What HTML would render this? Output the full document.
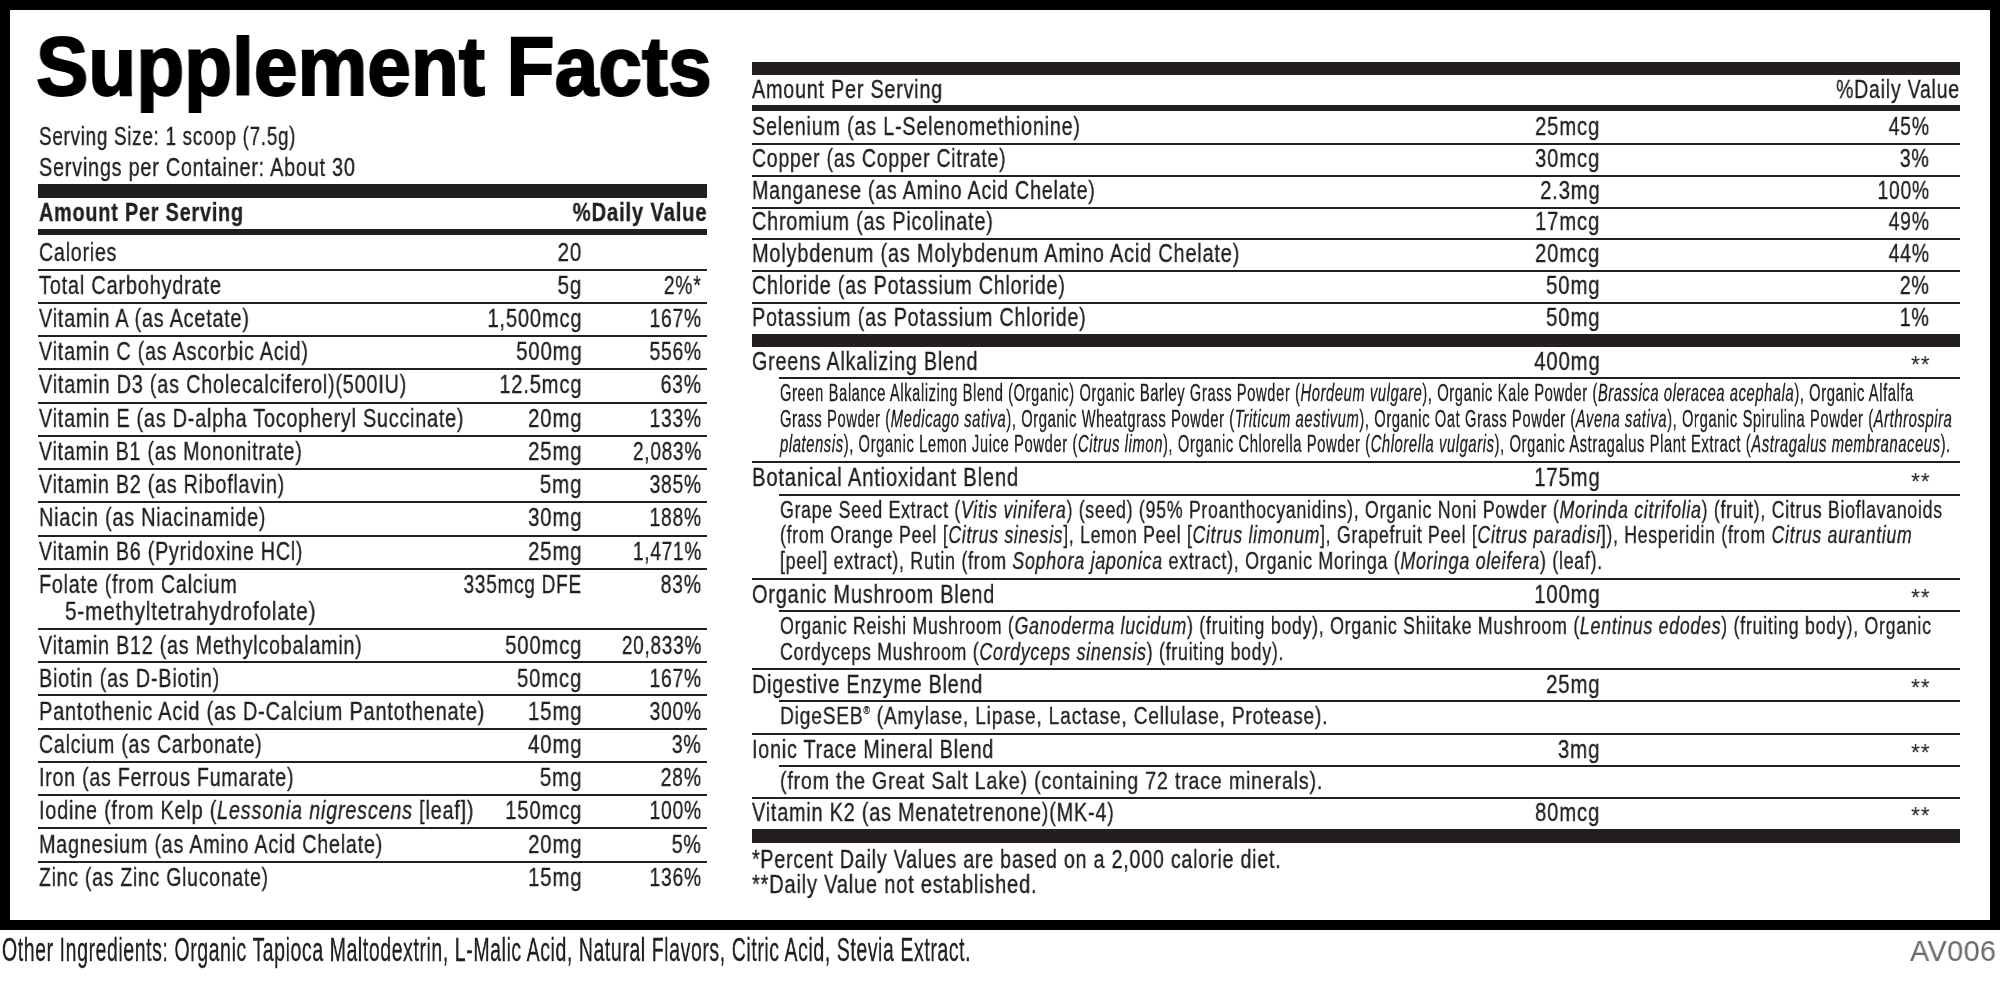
<!DOCTYPE html><html><head><meta charset="utf-8"><style>html,body{margin:0;padding:0;background:#fff;width:2000px;height:982px;overflow:hidden;position:relative}.t{position:absolute;font-family:"Liberation Sans", sans-serif;white-space:pre;will-change:transform;-webkit-text-stroke:0.35px #231f20}.t i{font-style:italic}.t sup{font-size:45%;vertical-align:0;position:relative;top:-0.9em}.r{position:absolute}</style></head><body>
<div class="r" style="left:0px;top:0px;width:2000px;height:10px;background:#000"></div>
<div class="r" style="left:0px;top:920px;width:2000px;height:10px;background:#000"></div>
<div class="r" style="left:0px;top:0px;width:10px;height:930px;background:#000"></div>
<div class="r" style="left:1990px;top:0px;width:10px;height:930px;background:#000"></div>
<div class="r" style="left:38px;top:184px;width:669px;height:14px;background:#231f20"></div>
<div class="r" style="left:38px;top:229px;width:669px;height:6px;background:#231f20"></div>
<div class="r" style="left:38px;top:269px;width:669px;height:2px;background:#231f20"></div>
<div class="r" style="left:38px;top:302px;width:669px;height:2px;background:#231f20"></div>
<div class="r" style="left:38px;top:335px;width:669px;height:2px;background:#231f20"></div>
<div class="r" style="left:38px;top:368px;width:669px;height:2px;background:#231f20"></div>
<div class="r" style="left:38px;top:402px;width:669px;height:2px;background:#231f20"></div>
<div class="r" style="left:38px;top:435px;width:669px;height:2px;background:#231f20"></div>
<div class="r" style="left:38px;top:468px;width:669px;height:2px;background:#231f20"></div>
<div class="r" style="left:38px;top:501px;width:669px;height:2px;background:#231f20"></div>
<div class="r" style="left:38px;top:535px;width:669px;height:2px;background:#231f20"></div>
<div class="r" style="left:38px;top:568px;width:669px;height:2px;background:#231f20"></div>
<div class="r" style="left:38px;top:628px;width:669px;height:2px;background:#231f20"></div>
<div class="r" style="left:38px;top:661px;width:669px;height:2px;background:#231f20"></div>
<div class="r" style="left:38px;top:694px;width:669px;height:2px;background:#231f20"></div>
<div class="r" style="left:38px;top:728px;width:669px;height:2px;background:#231f20"></div>
<div class="r" style="left:38px;top:761px;width:669px;height:2px;background:#231f20"></div>
<div class="r" style="left:38px;top:794px;width:669px;height:2px;background:#231f20"></div>
<div class="r" style="left:38px;top:827px;width:669px;height:2px;background:#231f20"></div>
<div class="r" style="left:38px;top:861px;width:669px;height:2px;background:#231f20"></div>
<div class="r" style="left:752px;top:62px;width:1208px;height:13px;background:#231f20"></div>
<div class="r" style="left:752px;top:105px;width:1208px;height:6px;background:#231f20"></div>
<div class="r" style="left:752px;top:143px;width:1208px;height:2px;background:#231f20"></div>
<div class="r" style="left:752px;top:175px;width:1208px;height:2px;background:#231f20"></div>
<div class="r" style="left:752px;top:207px;width:1208px;height:2px;background:#231f20"></div>
<div class="r" style="left:752px;top:238px;width:1208px;height:2px;background:#231f20"></div>
<div class="r" style="left:752px;top:270px;width:1208px;height:2px;background:#231f20"></div>
<div class="r" style="left:752px;top:302px;width:1208px;height:2px;background:#231f20"></div>
<div class="r" style="left:752px;top:334px;width:1208px;height:13px;background:#231f20"></div>
<div class="r" style="left:779px;top:377px;width:1181px;height:2px;background:#231f20"></div>
<div class="r" style="left:779px;top:494px;width:1181px;height:2px;background:#231f20"></div>
<div class="r" style="left:779px;top:610px;width:1181px;height:2px;background:#231f20"></div>
<div class="r" style="left:779px;top:700px;width:1181px;height:2px;background:#231f20"></div>
<div class="r" style="left:779px;top:765px;width:1181px;height:2px;background:#231f20"></div>
<div class="r" style="left:752px;top:461px;width:1208px;height:2px;background:#231f20"></div>
<div class="r" style="left:752px;top:578px;width:1208px;height:2px;background:#231f20"></div>
<div class="r" style="left:752px;top:668px;width:1208px;height:2px;background:#231f20"></div>
<div class="r" style="left:752px;top:733px;width:1208px;height:2px;background:#231f20"></div>
<div class="r" style="left:752px;top:797px;width:1208px;height:2px;background:#231f20"></div>
<div class="r" style="left:752px;top:829px;width:1208px;height:14px;background:#231f20"></div>
<div class="t" id="t0" style="top:24.05px;font-size:84.06px;line-height:84.06px;font-weight:700;color:#000;letter-spacing:0px;-webkit-text-stroke:2.0px #000;left:36px;transform-origin:0 0;transform:scaleX(0.9332);">Supplement Facts</div>
<div class="t" id="t1" style="top:124.14px;font-size:25.36px;line-height:25.36px;font-weight:400;color:#231f20;letter-spacing:1.0px;left:38.9px;transform-origin:0 0;transform:scaleX(0.7422);">Serving Size: 1 scoop (7.5g)</div>
<div class="t" id="t2" style="top:155.34px;font-size:25.36px;line-height:25.36px;font-weight:400;color:#231f20;letter-spacing:1.0px;left:38.9px;transform-origin:0 0;transform:scaleX(0.7808);">Servings per Container: About 30</div>
<div class="t" id="t3" style="top:199.54px;font-size:25.36px;line-height:25.36px;font-weight:700;color:#231f20;letter-spacing:1.0px;left:38.5px;transform-origin:0 0;transform:scaleX(0.7826);">Amount Per Serving</div>
<div class="t" id="t4" style="top:199.54px;font-size:25.36px;line-height:25.36px;font-weight:700;color:#231f20;letter-spacing:1.0px;right:1292.20px;transform-origin:100% 0;transform:scaleX(0.8001);">%Daily Value</div>
<div class="t" id="t5" style="top:239.74px;font-size:25.36px;line-height:25.36px;font-weight:400;color:#231f20;letter-spacing:1.0px;left:38.5px;transform-origin:0 0;transform:scaleX(0.7738);">Calories</div>
<div class="t" id="t6" style="top:239.74px;font-size:25.36px;line-height:25.36px;font-weight:400;color:#231f20;letter-spacing:1.0px;right:1417.68px;transform-origin:100% 0;transform:scaleX(0.8161);">20</div>
<div class="t" id="t7" style="top:273.04px;font-size:25.36px;line-height:25.36px;font-weight:400;color:#231f20;letter-spacing:1.0px;left:38.5px;transform-origin:0 0;transform:scaleX(0.7865);">Total Carbohydrate</div>
<div class="t" id="t8" style="top:273.04px;font-size:25.36px;line-height:25.36px;font-weight:400;color:#231f20;letter-spacing:1.0px;right:1417.68px;transform-origin:100% 0;transform:scaleX(0.8161);">5g</div>
<div class="t" id="t9" style="top:273.04px;font-size:25.36px;line-height:25.36px;font-weight:400;color:#231f20;letter-spacing:1.0px;right:1298.04px;transform-origin:100% 0;transform:scaleX(0.7616);">2%*</div>
<div class="t" id="t10" style="top:306.24px;font-size:25.36px;line-height:25.36px;font-weight:400;color:#231f20;letter-spacing:1.0px;left:38.5px;transform-origin:0 0;transform:scaleX(0.7813);">Vitamin A (as Acetate)</div>
<div class="t" id="t11" style="top:306.24px;font-size:25.36px;line-height:25.36px;font-weight:400;color:#231f20;letter-spacing:1.0px;right:1417.70px;transform-origin:100% 0;transform:scaleX(0.7950);">1,500mcg</div>
<div class="t" id="t12" style="top:306.24px;font-size:25.36px;line-height:25.36px;font-weight:400;color:#231f20;letter-spacing:1.0px;right:1298.04px;transform-origin:100% 0;transform:scaleX(0.7592);">167%</div>
<div class="t" id="t13" style="top:339.14px;font-size:25.36px;line-height:25.36px;font-weight:400;color:#231f20;letter-spacing:1.0px;left:38.5px;transform-origin:0 0;transform:scaleX(0.7796);">Vitamin C (as Ascorbic Acid)</div>
<div class="t" id="t14" style="top:339.14px;font-size:25.36px;line-height:25.36px;font-weight:400;color:#231f20;letter-spacing:1.0px;right:1417.70px;transform-origin:100% 0;transform:scaleX(0.8036);">500mg</div>
<div class="t" id="t15" style="top:339.14px;font-size:25.36px;line-height:25.36px;font-weight:400;color:#231f20;letter-spacing:1.0px;right:1298.04px;transform-origin:100% 0;transform:scaleX(0.7592);">556%</div>
<div class="t" id="t16" style="top:372.39px;font-size:25.36px;line-height:25.36px;font-weight:400;color:#231f20;letter-spacing:1.0px;left:38.5px;transform-origin:0 0;transform:scaleX(0.7827);">Vitamin D3 (as Cholecalciferol)(500IU)</div>
<div class="t" id="t17" style="top:372.39px;font-size:25.36px;line-height:25.36px;font-weight:400;color:#231f20;letter-spacing:1.0px;right:1417.70px;transform-origin:100% 0;transform:scaleX(0.7959);">12.5mcg</div>
<div class="t" id="t18" style="top:372.39px;font-size:25.36px;line-height:25.36px;font-weight:400;color:#231f20;letter-spacing:1.0px;right:1298.04px;transform-origin:100% 0;transform:scaleX(0.7642);">63%</div>
<div class="t" id="t19" style="top:405.64px;font-size:25.36px;line-height:25.36px;font-weight:400;color:#231f20;letter-spacing:1.0px;left:38.5px;transform-origin:0 0;transform:scaleX(0.7799);">Vitamin E (as D-alpha Tocopheryl Succinate)</div>
<div class="t" id="t20" style="top:405.64px;font-size:25.36px;line-height:25.36px;font-weight:400;color:#231f20;letter-spacing:1.0px;right:1417.69px;transform-origin:100% 0;transform:scaleX(0.8068);">20mg</div>
<div class="t" id="t21" style="top:405.64px;font-size:25.36px;line-height:25.36px;font-weight:400;color:#231f20;letter-spacing:1.0px;right:1298.04px;transform-origin:100% 0;transform:scaleX(0.7592);">133%</div>
<div class="t" id="t22" style="top:438.89px;font-size:25.36px;line-height:25.36px;font-weight:400;color:#231f20;letter-spacing:1.0px;left:38.5px;transform-origin:0 0;transform:scaleX(0.7731);">Vitamin B1 (as Mononitrate)</div>
<div class="t" id="t23" style="top:438.89px;font-size:25.36px;line-height:25.36px;font-weight:400;color:#231f20;letter-spacing:1.0px;right:1417.69px;transform-origin:100% 0;transform:scaleX(0.8068);">25mg</div>
<div class="t" id="t24" style="top:438.89px;font-size:25.36px;line-height:25.36px;font-weight:400;color:#231f20;letter-spacing:1.0px;right:1298.05px;transform-origin:100% 0;transform:scaleX(0.7507);">2,083%</div>
<div class="t" id="t25" style="top:472.14px;font-size:25.36px;line-height:25.36px;font-weight:400;color:#231f20;letter-spacing:1.0px;left:38.5px;transform-origin:0 0;transform:scaleX(0.7754);">Vitamin B2 (as Riboflavin)</div>
<div class="t" id="t26" style="top:472.14px;font-size:25.36px;line-height:25.36px;font-weight:400;color:#231f20;letter-spacing:1.0px;right:1417.69px;transform-origin:100% 0;transform:scaleX(0.8121);">5mg</div>
<div class="t" id="t27" style="top:472.14px;font-size:25.36px;line-height:25.36px;font-weight:400;color:#231f20;letter-spacing:1.0px;right:1298.04px;transform-origin:100% 0;transform:scaleX(0.7592);">385%</div>
<div class="t" id="t28" style="top:505.39px;font-size:25.36px;line-height:25.36px;font-weight:400;color:#231f20;letter-spacing:1.0px;left:38.5px;transform-origin:0 0;transform:scaleX(0.7816);">Niacin (as Niacinamide)</div>
<div class="t" id="t29" style="top:505.39px;font-size:25.36px;line-height:25.36px;font-weight:400;color:#231f20;letter-spacing:1.0px;right:1417.69px;transform-origin:100% 0;transform:scaleX(0.8068);">30mg</div>
<div class="t" id="t30" style="top:505.39px;font-size:25.36px;line-height:25.36px;font-weight:400;color:#231f20;letter-spacing:1.0px;right:1298.04px;transform-origin:100% 0;transform:scaleX(0.7592);">188%</div>
<div class="t" id="t31" style="top:538.64px;font-size:25.36px;line-height:25.36px;font-weight:400;color:#231f20;letter-spacing:1.0px;left:38.5px;transform-origin:0 0;transform:scaleX(0.7754);">Vitamin B6 (Pyridoxine HCl)</div>
<div class="t" id="t32" style="top:538.64px;font-size:25.36px;line-height:25.36px;font-weight:400;color:#231f20;letter-spacing:1.0px;right:1417.69px;transform-origin:100% 0;transform:scaleX(0.8068);">25mg</div>
<div class="t" id="t33" style="top:538.64px;font-size:25.36px;line-height:25.36px;font-weight:400;color:#231f20;letter-spacing:1.0px;right:1298.05px;transform-origin:100% 0;transform:scaleX(0.7507);">1,471%</div>
<div class="t" id="t34" style="top:572.14px;font-size:25.36px;line-height:25.36px;font-weight:400;color:#231f20;letter-spacing:1.0px;left:38.5px;transform-origin:0 0;transform:scaleX(0.7775);">Folate (from Calcium</div>
<div class="t" id="t35" style="top:572.14px;font-size:25.36px;line-height:25.36px;font-weight:400;color:#231f20;letter-spacing:1.0px;right:1417.75px;transform-origin:100% 0;transform:scaleX(0.7498);">335mcg DFE</div>
<div class="t" id="t36" style="top:572.14px;font-size:25.36px;line-height:25.36px;font-weight:400;color:#231f20;letter-spacing:1.0px;right:1298.04px;transform-origin:100% 0;transform:scaleX(0.7642);">83%</div>
<div class="t" id="t37" style="top:632.64px;font-size:25.36px;line-height:25.36px;font-weight:400;color:#231f20;letter-spacing:1.0px;left:38.5px;transform-origin:0 0;transform:scaleX(0.7771);">Vitamin B12 (as Methylcobalamin)</div>
<div class="t" id="t38" style="top:632.64px;font-size:25.36px;line-height:25.36px;font-weight:400;color:#231f20;letter-spacing:1.0px;right:1417.70px;transform-origin:100% 0;transform:scaleX(0.8006);">500mcg</div>
<div class="t" id="t39" style="top:632.64px;font-size:25.36px;line-height:25.36px;font-weight:400;color:#231f20;letter-spacing:1.0px;right:1298.05px;transform-origin:100% 0;transform:scaleX(0.7494);">20,833%</div>
<div class="t" id="t40" style="top:665.89px;font-size:25.36px;line-height:25.36px;font-weight:400;color:#231f20;letter-spacing:1.0px;left:38.5px;transform-origin:0 0;transform:scaleX(0.7823);">Biotin (as D-Biotin)</div>
<div class="t" id="t41" style="top:665.89px;font-size:25.36px;line-height:25.36px;font-weight:400;color:#231f20;letter-spacing:1.0px;right:1417.70px;transform-origin:100% 0;transform:scaleX(0.8028);">50mcg</div>
<div class="t" id="t42" style="top:665.89px;font-size:25.36px;line-height:25.36px;font-weight:400;color:#231f20;letter-spacing:1.0px;right:1298.04px;transform-origin:100% 0;transform:scaleX(0.7592);">167%</div>
<div class="t" id="t43" style="top:699.14px;font-size:25.36px;line-height:25.36px;font-weight:400;color:#231f20;letter-spacing:1.0px;left:38.5px;transform-origin:0 0;transform:scaleX(0.7867);">Pantothenic Acid (as D-Calcium Pantothenate)</div>
<div class="t" id="t44" style="top:699.14px;font-size:25.36px;line-height:25.36px;font-weight:400;color:#231f20;letter-spacing:1.0px;right:1417.69px;transform-origin:100% 0;transform:scaleX(0.8068);">15mg</div>
<div class="t" id="t45" style="top:699.14px;font-size:25.36px;line-height:25.36px;font-weight:400;color:#231f20;letter-spacing:1.0px;right:1298.04px;transform-origin:100% 0;transform:scaleX(0.7592);">300%</div>
<div class="t" id="t46" style="top:732.14px;font-size:25.36px;line-height:25.36px;font-weight:400;color:#231f20;letter-spacing:1.0px;left:38.5px;transform-origin:0 0;transform:scaleX(0.7713);">Calcium (as Carbonate)</div>
<div class="t" id="t47" style="top:732.14px;font-size:25.36px;line-height:25.36px;font-weight:400;color:#231f20;letter-spacing:1.0px;right:1417.69px;transform-origin:100% 0;transform:scaleX(0.8068);">40mg</div>
<div class="t" id="t48" style="top:732.14px;font-size:25.36px;line-height:25.36px;font-weight:400;color:#231f20;letter-spacing:1.0px;right:1298.03px;transform-origin:100% 0;transform:scaleX(0.7732);">3%</div>
<div class="t" id="t49" style="top:765.39px;font-size:25.36px;line-height:25.36px;font-weight:400;color:#231f20;letter-spacing:1.0px;left:38.5px;transform-origin:0 0;transform:scaleX(0.7726);">Iron (as Ferrous Fumarate)</div>
<div class="t" id="t50" style="top:765.39px;font-size:25.36px;line-height:25.36px;font-weight:400;color:#231f20;letter-spacing:1.0px;right:1417.69px;transform-origin:100% 0;transform:scaleX(0.8121);">5mg</div>
<div class="t" id="t51" style="top:765.39px;font-size:25.36px;line-height:25.36px;font-weight:400;color:#231f20;letter-spacing:1.0px;right:1298.04px;transform-origin:100% 0;transform:scaleX(0.7642);">28%</div>
<div class="t" id="t52" style="top:798.39px;font-size:25.36px;line-height:25.36px;font-weight:400;color:#231f20;letter-spacing:1.0px;left:38.5px;transform-origin:0 0;transform:scaleX(0.7825);">Iodine (from Kelp (<i>Lessonia nigrescens</i> [leaf])</div>
<div class="t" id="t53" style="top:798.39px;font-size:25.36px;line-height:25.36px;font-weight:400;color:#231f20;letter-spacing:1.0px;right:1417.70px;transform-origin:100% 0;transform:scaleX(0.8006);">150mcg</div>
<div class="t" id="t54" style="top:798.39px;font-size:25.36px;line-height:25.36px;font-weight:400;color:#231f20;letter-spacing:1.0px;right:1298.04px;transform-origin:100% 0;transform:scaleX(0.7592);">100%</div>
<div class="t" id="t55" style="top:831.64px;font-size:25.36px;line-height:25.36px;font-weight:400;color:#231f20;letter-spacing:1.0px;left:38.5px;transform-origin:0 0;transform:scaleX(0.7788);">Magnesium (as Amino Acid Chelate)</div>
<div class="t" id="t56" style="top:831.64px;font-size:25.36px;line-height:25.36px;font-weight:400;color:#231f20;letter-spacing:1.0px;right:1417.69px;transform-origin:100% 0;transform:scaleX(0.8068);">20mg</div>
<div class="t" id="t57" style="top:831.64px;font-size:25.36px;line-height:25.36px;font-weight:400;color:#231f20;letter-spacing:1.0px;right:1298.03px;transform-origin:100% 0;transform:scaleX(0.7732);">5%</div>
<div class="t" id="t58" style="top:864.64px;font-size:25.36px;line-height:25.36px;font-weight:400;color:#231f20;letter-spacing:1.0px;left:38.5px;transform-origin:0 0;transform:scaleX(0.7653);">Zinc (as Zinc Gluconate)</div>
<div class="t" id="t59" style="top:864.64px;font-size:25.36px;line-height:25.36px;font-weight:400;color:#231f20;letter-spacing:1.0px;right:1417.69px;transform-origin:100% 0;transform:scaleX(0.8068);">15mg</div>
<div class="t" id="t60" style="top:864.64px;font-size:25.36px;line-height:25.36px;font-weight:400;color:#231f20;letter-spacing:1.0px;right:1298.04px;transform-origin:100% 0;transform:scaleX(0.7592);">136%</div>
<div class="t" id="t61" style="top:599.14px;font-size:25.36px;line-height:25.36px;font-weight:400;color:#231f20;letter-spacing:1.0px;left:64.5px;transform-origin:0 0;transform:scaleX(0.8189);">5-methyltetrahydrofolate)</div>
<div class="t" id="t62" style="top:76.84px;font-size:25.36px;line-height:25.36px;font-weight:400;color:#231f20;letter-spacing:1.0px;left:752.2px;transform-origin:0 0;transform:scaleX(0.7797);">Amount Per Serving</div>
<div class="t" id="t63" style="top:76.94px;font-size:25.36px;line-height:25.36px;font-weight:400;color:#231f20;letter-spacing:1.0px;right:39.73px;transform-origin:100% 0;transform:scaleX(0.7697);">%Daily Value</div>
<div class="t" id="t64" style="top:114.14px;font-size:25.36px;line-height:25.36px;font-weight:400;color:#231f20;letter-spacing:1.0px;left:752.2px;transform-origin:0 0;transform:scaleX(0.7808);">Selenium (as L-Selenomethionine)</div>
<div class="t" id="t65" style="top:114.14px;font-size:25.36px;line-height:25.36px;font-weight:400;color:#231f20;letter-spacing:1.0px;right:399.40px;transform-origin:100% 0;transform:scaleX(0.8028);">25mcg</div>
<div class="t" id="t66" style="top:114.14px;font-size:25.36px;line-height:25.36px;font-weight:400;color:#231f20;letter-spacing:1.0px;right:70.44px;transform-origin:100% 0;transform:scaleX(0.7642);">45%</div>
<div class="t" id="t67" style="top:145.89px;font-size:25.36px;line-height:25.36px;font-weight:400;color:#231f20;letter-spacing:1.0px;left:752.2px;transform-origin:0 0;transform:scaleX(0.7662);">Copper (as Copper Citrate)</div>
<div class="t" id="t68" style="top:145.89px;font-size:25.36px;line-height:25.36px;font-weight:400;color:#231f20;letter-spacing:1.0px;right:399.40px;transform-origin:100% 0;transform:scaleX(0.8028);">30mcg</div>
<div class="t" id="t69" style="top:145.89px;font-size:25.36px;line-height:25.36px;font-weight:400;color:#231f20;letter-spacing:1.0px;right:70.43px;transform-origin:100% 0;transform:scaleX(0.7732);">3%</div>
<div class="t" id="t70" style="top:177.64px;font-size:25.36px;line-height:25.36px;font-weight:400;color:#231f20;letter-spacing:1.0px;left:752.2px;transform-origin:0 0;transform:scaleX(0.7752);">Manganese (as Amino Acid Chelate)</div>
<div class="t" id="t71" style="top:177.64px;font-size:25.36px;line-height:25.36px;font-weight:400;color:#231f20;letter-spacing:1.0px;right:399.40px;transform-origin:100% 0;transform:scaleX(0.7996);">2.3mg</div>
<div class="t" id="t72" style="top:177.64px;font-size:25.36px;line-height:25.36px;font-weight:400;color:#231f20;letter-spacing:1.0px;right:70.44px;transform-origin:100% 0;transform:scaleX(0.7592);">100%</div>
<div class="t" id="t73" style="top:209.39px;font-size:25.36px;line-height:25.36px;font-weight:400;color:#231f20;letter-spacing:1.0px;left:752.2px;transform-origin:0 0;transform:scaleX(0.7826);">Chromium (as Picolinate)</div>
<div class="t" id="t74" style="top:209.39px;font-size:25.36px;line-height:25.36px;font-weight:400;color:#231f20;letter-spacing:1.0px;right:399.40px;transform-origin:100% 0;transform:scaleX(0.8028);">17mcg</div>
<div class="t" id="t75" style="top:209.39px;font-size:25.36px;line-height:25.36px;font-weight:400;color:#231f20;letter-spacing:1.0px;right:70.44px;transform-origin:100% 0;transform:scaleX(0.7642);">49%</div>
<div class="t" id="t76" style="top:241.14px;font-size:25.36px;line-height:25.36px;font-weight:400;color:#231f20;letter-spacing:1.0px;left:752.2px;transform-origin:0 0;transform:scaleX(0.7870);">Molybdenum (as Molybdenum Amino Acid Chelate)</div>
<div class="t" id="t77" style="top:241.14px;font-size:25.36px;line-height:25.36px;font-weight:400;color:#231f20;letter-spacing:1.0px;right:399.40px;transform-origin:100% 0;transform:scaleX(0.8028);">20mcg</div>
<div class="t" id="t78" style="top:241.14px;font-size:25.36px;line-height:25.36px;font-weight:400;color:#231f20;letter-spacing:1.0px;right:70.44px;transform-origin:100% 0;transform:scaleX(0.7642);">44%</div>
<div class="t" id="t79" style="top:272.89px;font-size:25.36px;line-height:25.36px;font-weight:400;color:#231f20;letter-spacing:1.0px;left:752.2px;transform-origin:0 0;transform:scaleX(0.7760);">Chloride (as Potassium Chloride)</div>
<div class="t" id="t80" style="top:272.89px;font-size:25.36px;line-height:25.36px;font-weight:400;color:#231f20;letter-spacing:1.0px;right:399.39px;transform-origin:100% 0;transform:scaleX(0.8068);">50mg</div>
<div class="t" id="t81" style="top:272.89px;font-size:25.36px;line-height:25.36px;font-weight:400;color:#231f20;letter-spacing:1.0px;right:70.43px;transform-origin:100% 0;transform:scaleX(0.7732);">2%</div>
<div class="t" id="t82" style="top:304.64px;font-size:25.36px;line-height:25.36px;font-weight:400;color:#231f20;letter-spacing:1.0px;left:752.2px;transform-origin:0 0;transform:scaleX(0.7798);">Potassium (as Potassium Chloride)</div>
<div class="t" id="t83" style="top:304.64px;font-size:25.36px;line-height:25.36px;font-weight:400;color:#231f20;letter-spacing:1.0px;right:399.39px;transform-origin:100% 0;transform:scaleX(0.8068);">50mg</div>
<div class="t" id="t84" style="top:304.64px;font-size:25.36px;line-height:25.36px;font-weight:400;color:#231f20;letter-spacing:1.0px;right:70.43px;transform-origin:100% 0;transform:scaleX(0.7732);">1%</div>
<div class="t" id="t85" style="top:348.64px;font-size:25.36px;line-height:25.36px;font-weight:400;color:#231f20;letter-spacing:1.0px;left:752.2px;transform-origin:0 0;transform:scaleX(0.7777);">Greens Alkalizing Blend</div>
<div class="t" id="t86" style="top:348.64px;font-size:25.36px;line-height:25.36px;font-weight:400;color:#231f20;letter-spacing:1.0px;right:399.40px;transform-origin:100% 0;transform:scaleX(0.8036);">400mg</div>
<div class="t" id="t87" style="top:353.17px;font-size:23.91px;line-height:23.91px;font-weight:400;color:#231f21;letter-spacing:1.0px;-webkit-text-stroke:0;right:69.75px;transform-origin:100% 0;transform:scaleX(0.9500);">**</div>
<div class="t" id="t88" style="top:465.14px;font-size:25.36px;line-height:25.36px;font-weight:400;color:#231f20;letter-spacing:1.0px;left:752.2px;transform-origin:0 0;transform:scaleX(0.7985);">Botanical Antioxidant Blend</div>
<div class="t" id="t89" style="top:465.14px;font-size:25.36px;line-height:25.36px;font-weight:400;color:#231f20;letter-spacing:1.0px;right:399.40px;transform-origin:100% 0;transform:scaleX(0.8036);">175mg</div>
<div class="t" id="t90" style="top:469.67px;font-size:23.91px;line-height:23.91px;font-weight:400;color:#231f21;letter-spacing:1.0px;-webkit-text-stroke:0;right:69.75px;transform-origin:100% 0;transform:scaleX(0.9500);">**</div>
<div class="t" id="t91" style="top:581.54px;font-size:25.36px;line-height:25.36px;font-weight:400;color:#231f20;letter-spacing:1.0px;left:752.2px;transform-origin:0 0;transform:scaleX(0.7853);">Organic Mushroom Blend</div>
<div class="t" id="t92" style="top:581.54px;font-size:25.36px;line-height:25.36px;font-weight:400;color:#231f20;letter-spacing:1.0px;right:399.40px;transform-origin:100% 0;transform:scaleX(0.8036);">100mg</div>
<div class="t" id="t93" style="top:586.07px;font-size:23.91px;line-height:23.91px;font-weight:400;color:#231f21;letter-spacing:1.0px;-webkit-text-stroke:0;right:69.75px;transform-origin:100% 0;transform:scaleX(0.9500);">**</div>
<div class="t" id="t94" style="top:671.54px;font-size:25.36px;line-height:25.36px;font-weight:400;color:#231f20;letter-spacing:1.0px;left:752.2px;transform-origin:0 0;transform:scaleX(0.7781);">Digestive Enzyme Blend</div>
<div class="t" id="t95" style="top:671.54px;font-size:25.36px;line-height:25.36px;font-weight:400;color:#231f20;letter-spacing:1.0px;right:399.39px;transform-origin:100% 0;transform:scaleX(0.8068);">25mg</div>
<div class="t" id="t96" style="top:676.07px;font-size:23.91px;line-height:23.91px;font-weight:400;color:#231f21;letter-spacing:1.0px;-webkit-text-stroke:0;right:69.75px;transform-origin:100% 0;transform:scaleX(0.9500);">**</div>
<div class="t" id="t97" style="top:736.64px;font-size:25.36px;line-height:25.36px;font-weight:400;color:#231f20;letter-spacing:1.0px;left:752.2px;transform-origin:0 0;transform:scaleX(0.7780);">Ionic Trace Mineral Blend</div>
<div class="t" id="t98" style="top:736.64px;font-size:25.36px;line-height:25.36px;font-weight:400;color:#231f20;letter-spacing:1.0px;right:399.39px;transform-origin:100% 0;transform:scaleX(0.8121);">3mg</div>
<div class="t" id="t99" style="top:741.17px;font-size:23.91px;line-height:23.91px;font-weight:400;color:#231f21;letter-spacing:1.0px;-webkit-text-stroke:0;right:69.75px;transform-origin:100% 0;transform:scaleX(0.9500);">**</div>
<div class="t" id="t100" style="top:799.64px;font-size:25.36px;line-height:25.36px;font-weight:400;color:#231f20;letter-spacing:1.0px;left:752.2px;transform-origin:0 0;transform:scaleX(0.7831);">Vitamin K2 (as Menatetrenone)(MK-4)</div>
<div class="t" id="t101" style="top:799.64px;font-size:25.36px;line-height:25.36px;font-weight:400;color:#231f20;letter-spacing:1.0px;right:399.40px;transform-origin:100% 0;transform:scaleX(0.8028);">80mcg</div>
<div class="t" id="t102" style="top:804.17px;font-size:23.91px;line-height:23.91px;font-weight:400;color:#231f21;letter-spacing:1.0px;-webkit-text-stroke:0;right:69.75px;transform-origin:100% 0;transform:scaleX(0.9500);">**</div>
<div class="t" id="t103" style="top:381.01px;font-size:24.64px;line-height:24.64px;font-weight:400;color:#231f20;letter-spacing:1.0px;left:779.5px;transform-origin:0 0;transform:scaleX(0.5978);">Green Balance Alkalizing Blend (Organic) Organic Barley Grass Powder (<i>Hordeum vulgare</i>), Organic Kale Powder (<i>Brassica oleracea acephala</i>), Organic Alfalfa</div>
<div class="t" id="t104" style="top:406.96px;font-size:24.64px;line-height:24.64px;font-weight:400;color:#231f20;letter-spacing:1.0px;left:779.5px;transform-origin:0 0;transform:scaleX(0.5986);">Grass Powder (<i>Medicago sativa</i>), Organic Wheatgrass Powder (<i>Triticum aestivum</i>), Organic Oat Grass Powder (<i>Avena sativa</i>), Organic Spirulina Powder (<i>Arthrospira</i></div>
<div class="t" id="t105" style="top:432.46px;font-size:24.64px;line-height:24.64px;font-weight:400;color:#231f20;letter-spacing:1.0px;left:779.5px;transform-origin:0 0;transform:scaleX(0.5992);"><i>platensis</i>), Organic Lemon Juice Powder (<i>Citrus limon</i>), Organic Chlorella Powder (<i>Chlorella vulgaris</i>), Organic Astragalus Plant Extract (<i>Astragalus membranaceus</i>).</div>
<div class="t" id="t106" style="top:497.56px;font-size:24.64px;line-height:24.64px;font-weight:400;color:#231f20;letter-spacing:1.0px;left:779.5px;transform-origin:0 0;transform:scaleX(0.7203);">Grape Seed Extract (<i>Vitis vinifera</i>) (seed) (95% Proanthocyanidins), Organic Noni Powder (<i>Morinda citrifolia</i>) (fruit), Citrus Bioflavanoids</div>
<div class="t" id="t107" style="top:523.06px;font-size:24.64px;line-height:24.64px;font-weight:400;color:#231f20;letter-spacing:1.0px;left:779.5px;transform-origin:0 0;transform:scaleX(0.7158);">(from Orange Peel [<i>Citrus sinesis</i>], Lemon Peel [<i>Citrus limonum</i>], Grapefruit Peel [<i>Citrus paradisi</i>]), Hesperidin (from <i>Citrus aurantium</i></div>
<div class="t" id="t108" style="top:548.56px;font-size:24.64px;line-height:24.64px;font-weight:400;color:#231f20;letter-spacing:1.0px;left:779.5px;transform-origin:0 0;transform:scaleX(0.7248);">[peel] extract), Rutin (from <i>Sophora japonica</i> extract), Organic Moringa (<i>Moringa oleifera</i>) (leaf).</div>
<div class="t" id="t109" style="top:613.66px;font-size:24.64px;line-height:24.64px;font-weight:400;color:#231f20;letter-spacing:1.0px;left:779.5px;transform-origin:0 0;transform:scaleX(0.7222);">Organic Reishi Mushroom (<i>Ganoderma lucidum</i>) (fruiting body), Organic Shiitake Mushroom (<i>Lentinus edodes</i>) (fruiting body), Organic</div>
<div class="t" id="t110" style="top:639.56px;font-size:24.64px;line-height:24.64px;font-weight:400;color:#231f20;letter-spacing:1.0px;left:779.5px;transform-origin:0 0;transform:scaleX(0.7225);">Cordyceps Mushroom (<i>Cordyceps sinensis</i>) (fruiting body).</div>
<div class="t" id="t111" style="top:704.26px;font-size:24.64px;line-height:24.64px;font-weight:400;color:#231f20;letter-spacing:1.0px;left:779.5px;transform-origin:0 0;transform:scaleX(0.7798);">DigeSEB<sup>&reg;</sup> (Amylase, Lipase, Lactase, Cellulase, Protease).</div>
<div class="t" id="t112" style="top:769.06px;font-size:24.64px;line-height:24.64px;font-weight:400;color:#231f20;letter-spacing:1.0px;left:779.5px;transform-origin:0 0;transform:scaleX(0.7977);">(from the Great Salt Lake) (containing 72 trace minerals).</div>
<div class="t" id="t113" style="top:846.64px;font-size:25.36px;line-height:25.36px;font-weight:400;color:#231f20;letter-spacing:1.0px;left:752.2px;transform-origin:0 0;transform:scaleX(0.7754);">*Percent Daily Values are based on a 2,000 calorie diet.</div>
<div class="t" id="t114" style="top:871.64px;font-size:25.36px;line-height:25.36px;font-weight:400;color:#231f20;letter-spacing:1.0px;left:752.2px;transform-origin:0 0;transform:scaleX(0.7907);">**Daily Value not established.</div>
<div class="t" id="t115" style="top:933.47px;font-size:33.33px;line-height:33.33px;font-weight:400;color:#231f20;letter-spacing:1.0px;left:1.5px;transform-origin:0 0;transform:scaleX(0.5846);">Other Ingredients: Organic Tapioca Maltodextrin, L-Malic Acid, Natural Flavors, Citric Acid, Stevia Extract.</div>
<div class="t" id="t116" style="top:935.75px;font-size:29.71px;line-height:29.71px;font-weight:400;color:#6b6b6b;letter-spacing:0.4px;-webkit-text-stroke:0;left:1910px;transform-origin:0 0;transform:scaleX(0.9708);">AV006</div>
<div class="r" style="left:234px;top:28px;width:20px;height:7px;background:#fff"></div>
</body></html>
